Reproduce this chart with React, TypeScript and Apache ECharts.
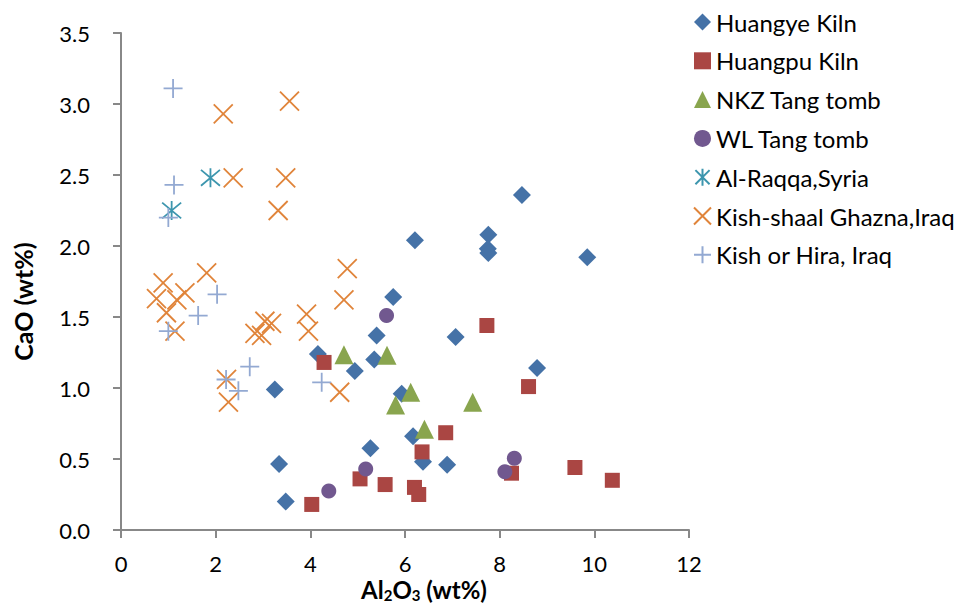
import React, { useEffect, useRef } from "react";
import * as echarts from "echarts";

const FONT = "Lato, 'Liberation Sans', sans-serif";

const seriesNames = [
  "Huangye Kiln",
  "Huangpu Kiln",
  "NKZ Tang tomb",
  "WL Tang tomb",
  "Al-Raqqa,Syria",
  "Kish-shaal Ghazna,Iraq",
  "Kish or Hira, Iraq",
];

const huangyeKiln: [number, number][] = [
  [8.47, 2.36], [6.21, 2.04], [7.76, 2.08], [7.75, 1.98], [7.76, 1.95],
  [9.85, 1.92], [5.75, 1.64], [7.07, 1.36], [8.79, 1.14], [5.4, 1.37],
  [4.16, 1.24], [5.35, 1.2], [4.94, 1.12], [3.25, 0.99], [5.93, 0.96],
  [5.27, 0.575], [3.34, 0.465], [3.48, 0.2], [6.17, 0.66], [6.38, 0.48],
  [6.89, 0.46],
];

const huangpuKiln: [number, number][] = [
  [4.29, 1.18], [7.73, 1.44], [8.61, 1.01], [6.86, 0.685], [6.36, 0.55],
  [5.58, 0.32], [6.2, 0.3], [6.29, 0.25], [8.25, 0.4], [9.59, 0.44],
  [10.38, 0.35], [5.05, 0.36], [4.03, 0.18],
];

const nkzTangTomb: [number, number][] = [
  [4.71, 1.235], [5.62, 1.23], [6.12, 0.97], [5.8, 0.88], [7.43, 0.9], [6.41, 0.71],
];

const wlTangTomb: [number, number][] = [
  [5.61, 1.51], [5.17, 0.43], [4.39, 0.275], [8.31, 0.505], [8.11, 0.41],
];

const alRaqqa: [number, number][] = [
  [1.89, 2.48], [1.07, 2.25],
];

const kishShaal: [number, number][] = [
  [2.16, 2.93], [3.56, 3.02], [2.37, 2.48], [3.48, 2.48], [3.32, 2.25],
  [4.78, 1.84], [4.71, 1.62], [1.81, 1.81], [0.89, 1.74], [0.75, 1.63],
  [1.35, 1.67], [1.18, 1.62], [0.96, 1.53], [1.14, 1.4], [3.92, 1.52],
  [3.96, 1.4], [3.04, 1.47], [3.18, 1.455], [2.83, 1.385], [2.97, 1.37],
  [2.23, 1.06], [2.27, 0.9], [4.62, 0.97],
];

const kishOrHira: [number, number][] = [
  [1.1, 3.11], [1.12, 2.43], [1.0, 2.2], [2.03, 1.66], [1.63, 1.51],
  [1.0, 1.4], [2.72, 1.15], [2.22, 1.06], [2.48, 0.98], [4.24, 1.04],
];

const colors = ["#4572A7", "#AA4643", "#89A54E", "#71588F", "#3D96AE", "#E0843A", "#93A9D2"];

const X_PATH = "path://M0,0L10,10M10,0L0,10";
const PLUS_PATH = "path://M5,0L5,10M0,5L10,5";
const STAR_PATH = "path://M0,0L10,10M10,0L0,10M5,-1L5,11";

export default function App() {
  const ref = useRef<HTMLDivElement>(null);

  useEffect(() => {
    if (!ref.current) return;
    const chart = echarts.init(ref.current, null, { renderer: "svg" });

    const filled = (name: string, data: [number, number][], symbol: string, size: number, color: string) => ({
      name,
      type: "scatter",
      data,
      symbol,
      symbolSize: size,
      itemStyle: { color, opacity: 1 },
    });
    const stroked = (name: string, data: [number, number][], symbol: string, size: number, color: string) => ({
      name,
      type: "scatter",
      data,
      symbol,
      symbolSize: size,
      itemStyle: { color: "rgba(0,0,0,0)", borderColor: color, borderWidth: 1.8, opacity: 1 },
    });

    const axisCommon = {
      type: "value",
      axisLine: { show: true, onZero: false, lineStyle: { color: "#888888", width: 2 } },
      axisTick: { show: true, length: 8, lineStyle: { color: "#888888", width: 2 } },
      splitLine: { show: false },
      nameMoveOverlap: false,
    };

    chart.setOption({
      animation: false,
      backgroundColor: "#ffffff",
      grid: {
        left: 121,
        right: 271,
        top: 33,
        bottom: 75,
        containLabel: false,
        outerBoundsMode: "none",
      },
      legend: {
        orient: "vertical",
        left: 693,
        top: 10,
        padding: 0,
        itemWidth: 17,
        itemHeight: 17,
        itemGap: 14.8,
        textStyle: { fontSize: 24, color: "#000", fontFamily: FONT, lineHeight: 24 },
        data: seriesNames,
      },
      xAxis: {
        ...axisCommon,
        min: 0,
        max: 12,
        interval: 2,
        axisLabel: { fontSize: 22, lineHeight: 22, color: "#000", fontFamily: FONT, margin: 22 },
        name: "{a|Al}{s|2}{a|O}{s|3}{a| (wt%)}",
        nameLocation: "middle",
        nameGap: 46,
        nameTextStyle: {
          fontSize: 24,
          fontWeight: "bold",
          color: "#000",
          fontFamily: FONT,
          padding: [0, 0, 0, 38],
          rich: {
            a: { fontSize: 24, fontWeight: "bold", color: "#000", fontFamily: FONT, lineHeight: 26, verticalAlign: "middle" },
            s: { fontSize: 15, fontWeight: "bold", color: "#000", fontFamily: FONT, lineHeight: 15, verticalAlign: "bottom" },
          },
        },
      },
      yAxis: {
        ...axisCommon,
        min: 0,
        max: 3.5,
        interval: 0.5,
        axisLabel: {
          fontSize: 22,
          color: "#000",
          fontFamily: FONT,
          margin: 31,
          formatter: (v: number) => v.toFixed(1),
        },
        name: "CaO (wt%)",
        nameLocation: "middle",
        nameGap: 86,
        nameTextStyle: {
          fontSize: 25,
          fontWeight: "bold",
          color: "#000",
          fontFamily: FONT,
          padding: [0, 40, 0, 0],
        },
      },
      series: [
        filled(seriesNames[0], huangyeKiln, "diamond", 18, colors[0]),
        filled(seriesNames[1], huangpuKiln, "rect", 15, colors[1]),
        filled(seriesNames[2], nkzTangTomb, "triangle", 19, colors[2]),
        filled(seriesNames[3], wlTangTomb, "circle", 15, colors[3]),
        stroked(seriesNames[4], alRaqqa, STAR_PATH, 19, colors[4]),
        stroked(seriesNames[5], kishShaal, X_PATH, 19, colors[5]),
        stroked(seriesNames[6], kishOrHira, PLUS_PATH, 19, colors[6]),
      ],
    });

    return () => chart.dispose();
  }, []);

  return (
    <div
      ref={ref}
      style={{ position: "fixed", left: 0, top: 0, width: 960, height: 605, background: "#fff" }}
    />
  );
}
